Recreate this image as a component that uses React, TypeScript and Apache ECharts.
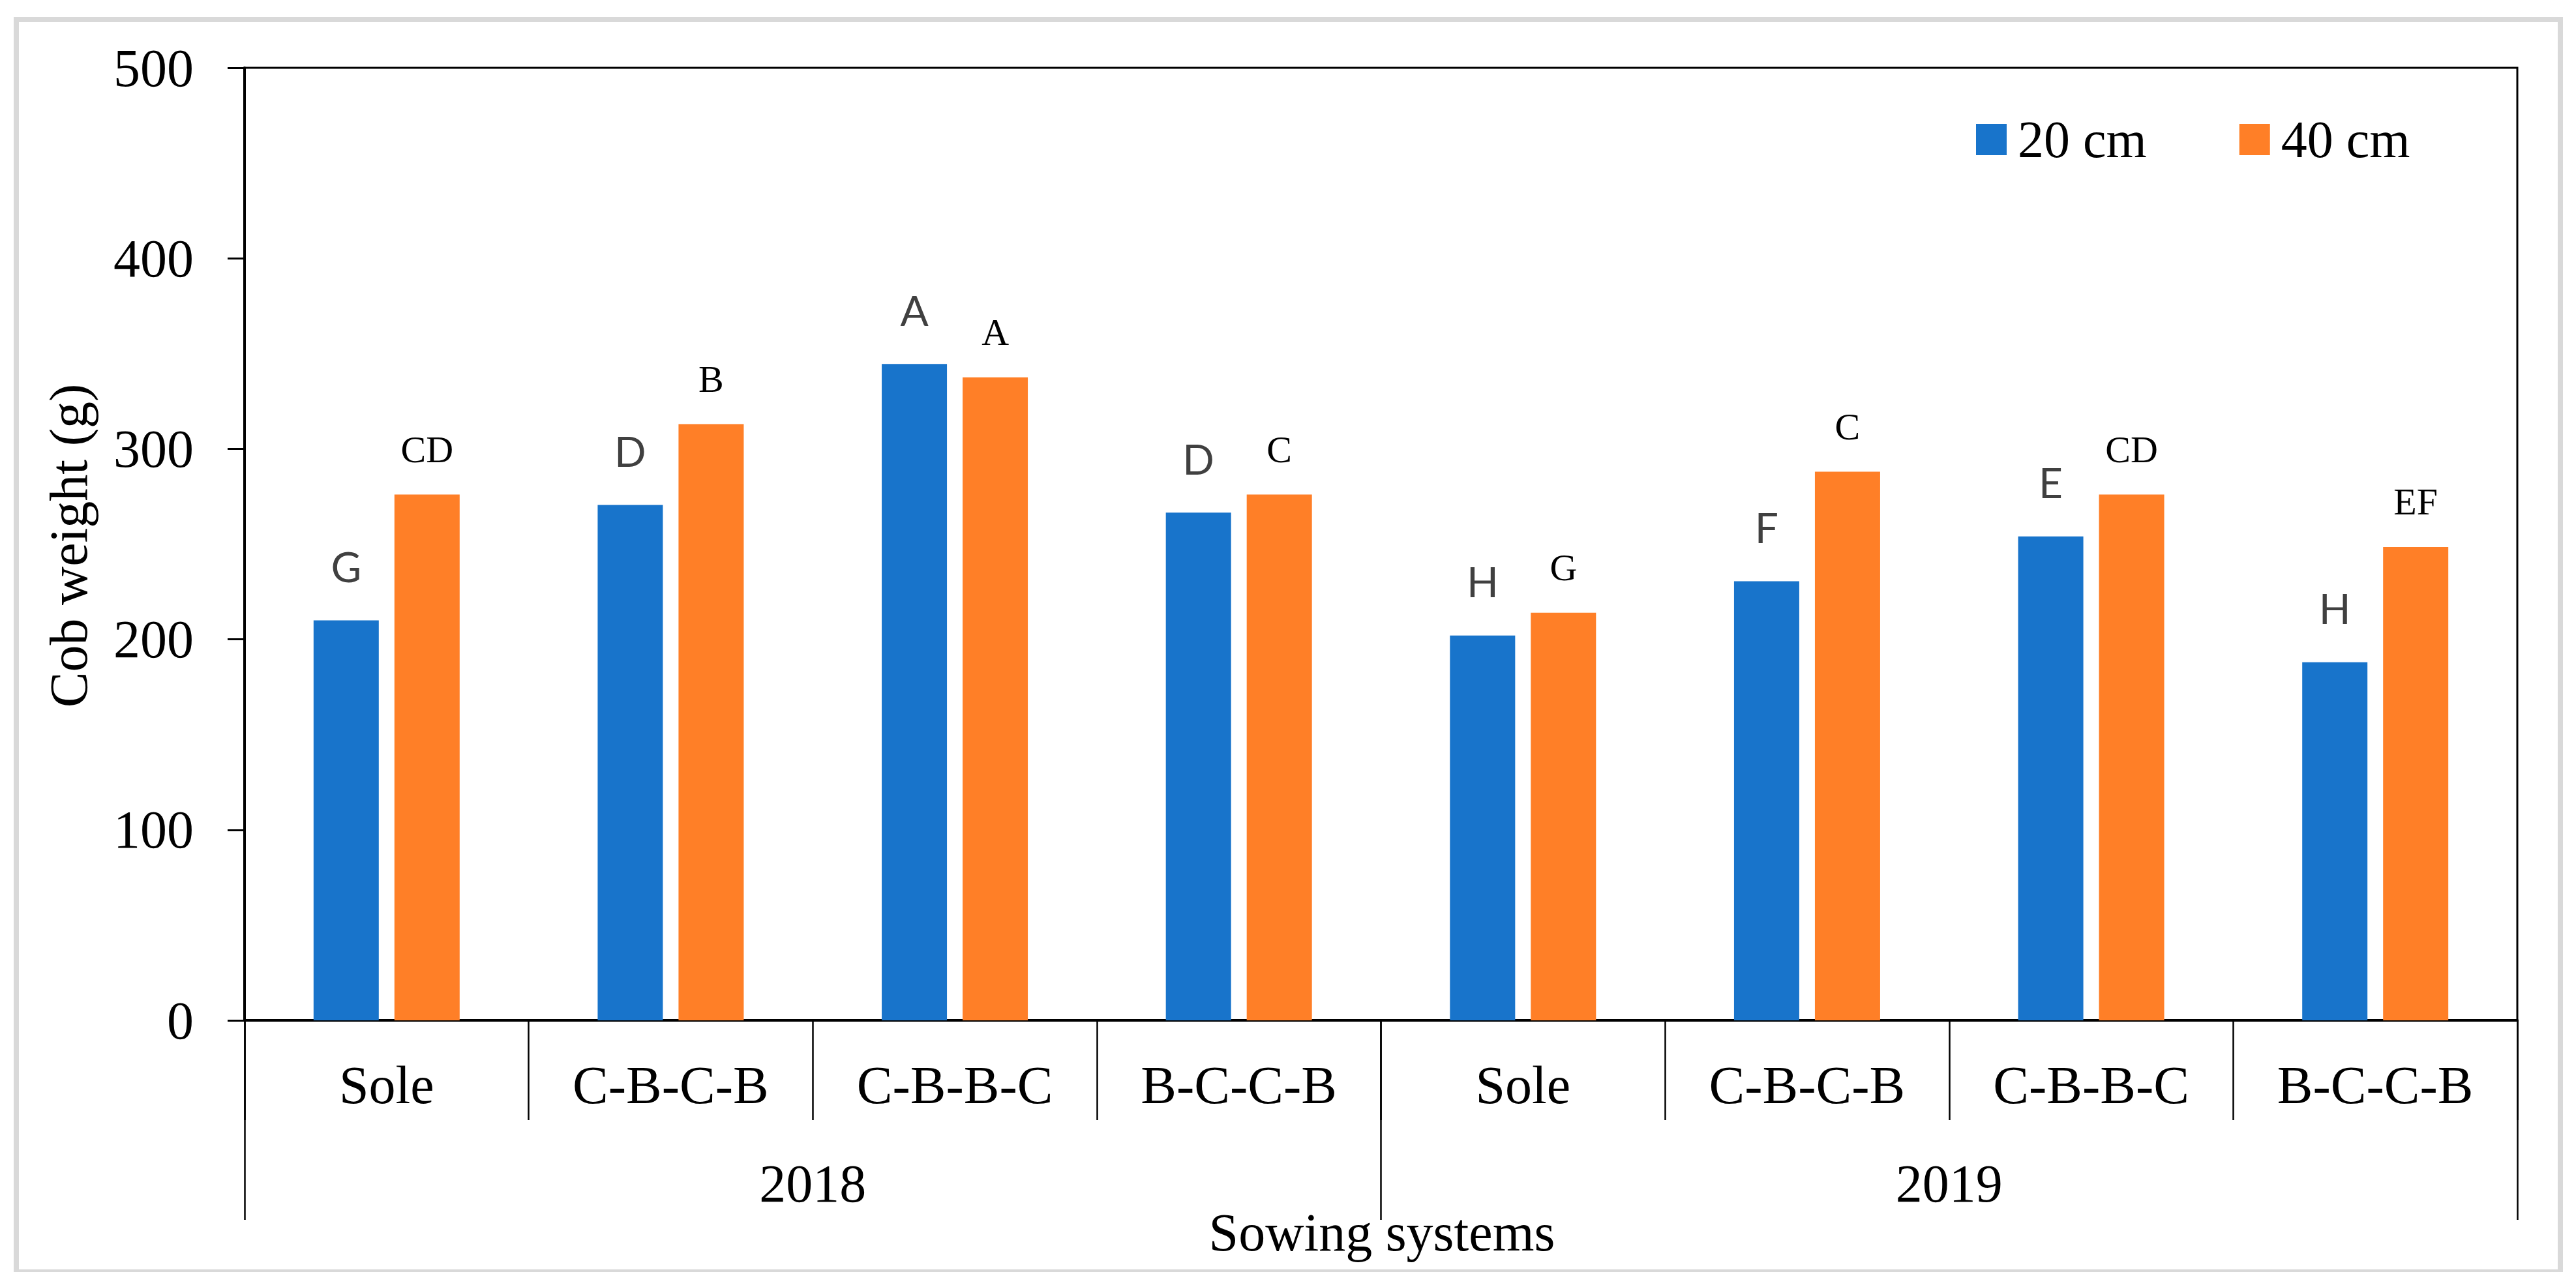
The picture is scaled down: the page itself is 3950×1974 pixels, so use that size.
import React, { useEffect, useRef } from "react";
import * as echarts from "echarts";

const categories = ["Sole", "C-B-C-B", "C-B-B-C", "B-C-C-B", "Sole", "C-B-C-B", "C-B-B-C", "B-C-C-B"];
const years = ["2018", "2019"];
const seriesNames = ["20 cm", "40 cm"];
const values20 = [210, 270.5, 344.5, 266.5, 202, 230.5, 254, 188];
const values40 = [276, 313, 337.5, 276, 214, 288, 276, 248.5];
const letters20 = ["G", "D", "A", "D", "H", "F", "E", "H"];
const letters40 = ["CD", "B", "A", "C", "G", "C", "CD", "EF"];
const yTicks = { min: 0, max: 500, interval: 100 };

const SERIF = "Liberation Serif";
const SANS = "Lato";

export default function App() {
  const ref = useRef<HTMLDivElement>(null);
  useEffect(() => {
    const chart = echarts.init(ref.current!, null, { renderer: "svg" });
    const gray = "#d9d9d9";
    chart.setOption({
      animation: false,
      backgroundColor: "#ffffff",
      textStyle: { fontFamily: SERIF, color: "#000" },
      grid: {
        left: 375,
        right: 90,
        top: 104,
        bottom: 409,
        show: true,
        borderColor: "#000",
        borderWidth: 3,
        containLabel: false,
      },
      legend: {
        data: seriesNames,
        left: 3030,
        top: 174,
        padding: 0,
        icon: "rect",
        itemWidth: 47,
        itemHeight: 48,
        itemGap: 142,
        textStyle: { fontFamily: SERIF, fontSize: 80, color: "#000", padding: [0, 0, 0, 12] },
      },
      xAxis: [
        {
          type: "category",
          data: categories,
          position: "bottom",
          axisLine: { show: true, lineStyle: { color: "#000", width: 4 } },
          axisTick: { show: true, interval: 0, length: 153, lineStyle: { color: "#000", width: 2.5 } },
          axisLabel: { interval: 0, margin: 58, fontFamily: SERIF, fontSize: 82, color: "#000" },
          splitLine: { show: false },
        },
        {
          type: "category",
          data: years,
          position: "bottom",
          offset: 0,
          axisLine: { show: false },
          axisTick: { show: true, interval: 0, length: 306, lineStyle: { color: "#000", width: 2.5 } },
          axisLabel: { interval: 0, margin: 209, fontFamily: SERIF, fontSize: 82, color: "#000" },
          splitLine: { show: false },
        },
      ],
      yAxis: {
        type: "value",
        min: yTicks.min,
        max: yTicks.max,
        interval: yTicks.interval,
        axisLine: { show: true, lineStyle: { color: "#000", width: 4 } },
        axisTick: { show: true, inside: false, length: 26, lineStyle: { color: "#000", width: 3 } },
        axisLabel: { margin: 78, fontFamily: SERIF, fontSize: 82, color: "#000" },
        splitLine: { show: false },
      },
      series: [
        {
          name: seriesNames[0],
          type: "bar",
          xAxisIndex: 0,
          data: values20,
          barWidth: 100,
          barGap: "24%",
          itemStyle: { color: "#1874CB" },
          label: {
            show: true,
            position: "top",
            distance: 51,
            formatter: (p: any) => letters20[p.dataIndex],
            fontFamily: SANS,
            fontSize: 64,
            color: "#404040",
          },
        },
        {
          name: seriesNames[1],
          type: "bar",
          xAxisIndex: 0,
          data: values40,
          barWidth: 100,
          barGap: "24%",
          itemStyle: { color: "#FF7F27" },
          label: {
            show: true,
            position: "top",
            distance: 40,
            formatter: (p: any) => letters40[p.dataIndex],
            fontFamily: SERIF,
            fontSize: 58,
            color: "#000",
          },
        },
      ],
      graphic: [
        { type: "rect", shape: { x: 21, y: 26, width: 8, height: 1925 }, style: { fill: gray }, silent: true },
        { type: "rect", shape: { x: 21, y: 26, width: 3909, height: 8 }, style: { fill: gray }, silent: true },
        { type: "rect", shape: { x: 3922, y: 26, width: 8, height: 1925 }, style: { fill: gray }, silent: true },
        { type: "rect", shape: { x: 21, y: 1947, width: 3909, height: 4 }, style: { fill: gray }, silent: true },
        {
          type: "text",
          x: 105,
          y: 837,
          rotation: Math.PI / 2,
          style: {
            text: "Cob weight (g)",
            fontFamily: SERIF,
            fontSize: 82,
            fill: "#000",
            textAlign: "center",
            textVerticalAlign: "middle",
            align: "center",
            verticalAlign: "middle",
          },
        },
        {
          type: "text",
          x: 2119,
          y: 1890,
          style: {
            text: "Sowing systems",
            fontFamily: SERIF,
            fontSize: 82,
            fill: "#000",
            textAlign: "center",
            textVerticalAlign: "middle",
            align: "center",
            verticalAlign: "middle",
          },
        },
      ],
    });
    return () => chart.dispose();
  }, []);
  return (
    <div
      ref={ref}
      style={{ position: "fixed", left: 0, top: 0, width: 3950, height: 1974, background: "#fff" }}
    />
  );
}
